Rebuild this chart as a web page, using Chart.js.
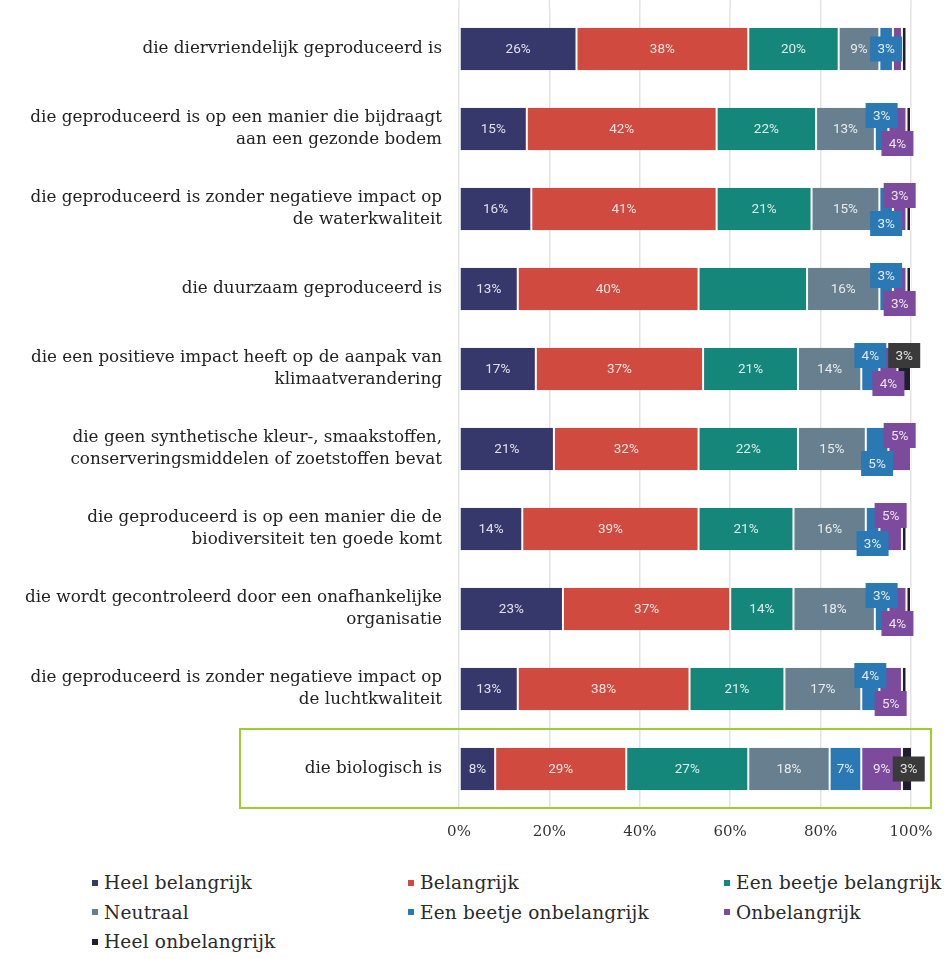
<!DOCTYPE html>
<html>
<head>
<meta charset="utf-8">
<script src="https://cdn.jsdelivr.net/npm/chart.js@4/dist/chart.umd.min.js"></script>
<style>
  html,body{margin:0;padding:0;background:#fff;}
  #wrap{position:relative;width:948px;height:959px;}
  #c{display:block;}
  #legend{position:absolute;left:92px;top:868px;display:grid;grid-template-columns:316px 316px 240px;grid-auto-rows:29.5px;
    font-family:"DejaVu Serif",serif;font-size:18.5px;color:#2a2a2a;letter-spacing:0.2px;}
  .li{display:flex;align-items:center;white-space:nowrap;}
  .sw{width:6px;height:6px;margin-right:6px;display:inline-block;}
</style>
</head>
<body>
<div id="wrap">
  <canvas id="c" width="948" height="860"></canvas>
  <div id="legend"></div>
</div>
<script>
const categories = [
  ['die diervriendelijk geproduceerd is'],
  ['die geproduceerd is op een manier die bijdraagt','aan een gezonde bodem'],
  ['die geproduceerd is zonder negatieve impact op','de waterkwaliteit'],
  ['die duurzaam geproduceerd is'],
  ['die een positieve impact heeft op de aanpak van','klimaatverandering'],
  ['die geen synthetische kleur-, smaakstoffen,','conserveringsmiddelen of zoetstoffen bevat'],
  ['die geproduceerd is op een manier die de','biodiversiteit ten goede komt'],
  ['die wordt gecontroleerd door een onafhankelijke','organisatie'],
  ['die geproduceerd is zonder negatieve impact op','de luchtkwaliteit'],
  ['die biologisch is']
];
const seriesNames = ['Heel belangrijk','Belangrijk','Een beetje belangrijk','Neutraal','Een beetje onbelangrijk','Onbelangrijk','Heel onbelangrijk'];
const heelBelangrijk     = [26,15,16,13,17,21,14,23,13,8];
const belangrijk         = [38,42,41,40,37,32,39,37,38,29];
const beetjeBelangrijk   = [20,22,21,24,21,22,21,14,21,27];
const neutraal           = [9,13,15,16,14,15,16,18,17,18];
const beetjeOnbelangrijk = [3,3,3,3,4,5,3,3,4,7];
const onbelangrijk       = [2,4,3,3,4,5,5,4,5,9];
const heelOnbelangrijk   = [1,1,1,1,3,1,1,1,1,3];
const xTicks = [0,20,40,60,80,100];

const colors = ['#36386b','#d04a3f','#14877a','#687f90','#2a78b4','#7d4b9d','#1e1e2c'];
const boxColors = ['#36386b','#d04a3f','#14877a','#687f90','#2a78b4','#7d4b9d','#3a3a3a'];
const allSeries = [heelBelangrijk,belangrijk,beetjeBelangrijk,neutraal,beetjeOnbelangrijk,onbelangrijk,heelOnbelangrijk];

// label presentation settings
const unlabeledSegments = [[3,2]];   // row, series where source shows no label
const flippedRows = [2,5,6];          // rows where small-label stacking starts at the bottom
const highlightRow = 9;

const gridExtend = {
  id:'gridExtend',
  beforeDatasetsDraw(chart){
    const ctx=chart.ctx, x=chart.scales.x, a=chart.chartArea;
    ctx.save();
    ctx.strokeStyle='#e3e3e3'; ctx.lineWidth=1.5;
    x.ticks.forEach(t=>{
      const px=x.getPixelForValue(t.value);
      ctx.beginPath(); ctx.moveTo(px,0); ctx.lineTo(px,a.top); ctx.stroke();
    });
    ctx.restore();
  }
};

const segLabels = {
  id:'segLabels',
  afterDatasetsDraw(chart){
    const ctx = chart.ctx;
    const n = chart.data.labels.length;
    ctx.save();
    ctx.font = '13.5px Roboto, "DejaVu Sans", sans-serif';
    ctx.textAlign = 'center';
    ctx.textBaseline = 'middle';
    for(let i=0;i<n;i++){
      const small=[];
      chart.data.datasets.forEach((ds,d)=>{
        const el = chart.getDatasetMeta(d).data[i];
        const v = ds.data[i];
        const cx = (el.x+el.base)/2;
        if(v>=6){
          if(unlabeledSegments.some(p=>p[0]===i&&p[1]===d)) return;
          ctx.fillStyle='rgba(255,255,255,0.85)';
          ctx.fillText(v+'%',cx,el.y+1);
        } else if(v>=3){
          small.push({cx,y:el.y,v,d});
        }
      });
      const flip = flippedRows.includes(i);
      small.forEach((s,k)=>{
        let cy;
        if(small.length===1) cy=s.y;
        else {
          const top = (k%2===0)!==flip;
          cy = top ? s.y-13.5 : s.y+14.5;
        }
        const w=32,h=25;
        ctx.fillStyle=boxColors[s.d];
        ctx.fillRect(s.cx-w/2,cy-h/2,w,h);
        ctx.fillStyle='rgba(255,255,255,0.85)';
        ctx.fillText(s.v+'%',s.cx,cy+1);
      });
    }
    ctx.restore();
  }
};

const highlight = {
  id:'highlight',
  afterDraw(chart){
    const ctx=chart.ctx, y=chart.scales.y, a=chart.chartArea;
    const cy=y.getPixelForValue(highlightRow);
    ctx.save();
    ctx.strokeStyle='#9fcd2c';
    ctx.lineWidth=2;
    ctx.strokeRect(a.left-219,cy-40,a.right-a.left+239,79);
    ctx.restore();
  }
};

const chart = new Chart(document.getElementById('c'),{
  type:'bar',
  data:{
    labels:categories,
    datasets:allSeries.map((arr,i)=>({
      label:seriesNames[i],
      data:arr,
      backgroundColor:colors[i],
      borderColor:'#ffffff',
      borderWidth:{left:1,right:1,top:0,bottom:0},
      borderSkipped:false,
      categoryPercentage:0.53,
      barPercentage:1
    }))
  },
  options:{
    indexAxis:'y',
    responsive:false,
    animation:false,
    layout:{padding:{top:9,right:37,left:0,bottom:0}},
    plugins:{legend:{display:false},tooltip:{enabled:false}},
    scales:{
      x:{
        stacked:true,min:0,max:100,
        afterBuildTicks(s){ s.ticks = xTicks.map(v=>({value:v})); },
        afterFit(s){ s.height=51; },
        ticks:{callback:v=>v+'%',font:{family:'"DejaVu Serif", serif',size:15},color:'#333',padding:14,maxRotation:0},
        grid:{color:'#e3e3e3',drawTicks:false,lineWidth:1.5},
        border:{display:false}
      },
      y:{
        stacked:true,
        afterFit(s){ s.width=459; s.paddingTop=0; s.paddingBottom=0; },
        ticks:{font:{family:'"DejaVu Serif", serif',size:16.8,lineHeight:1.3},color:'#222',padding:17,autoSkip:false},
        grid:{display:false,drawTicks:false},
        border:{display:false}
      }
    }
  },
  plugins:[gridExtend,segLabels,highlight]
});

// HTML legend built from the chart's datasets
const lg=document.getElementById('legend');
chart.data.datasets.forEach(ds=>{
  const d=document.createElement('div'); d.className='li';
  const s=document.createElement('span'); s.className='sw'; s.style.background=ds.backgroundColor;
  d.appendChild(s); d.appendChild(document.createTextNode(ds.label));
  lg.appendChild(d);
});
</script>
</body>
</html>
